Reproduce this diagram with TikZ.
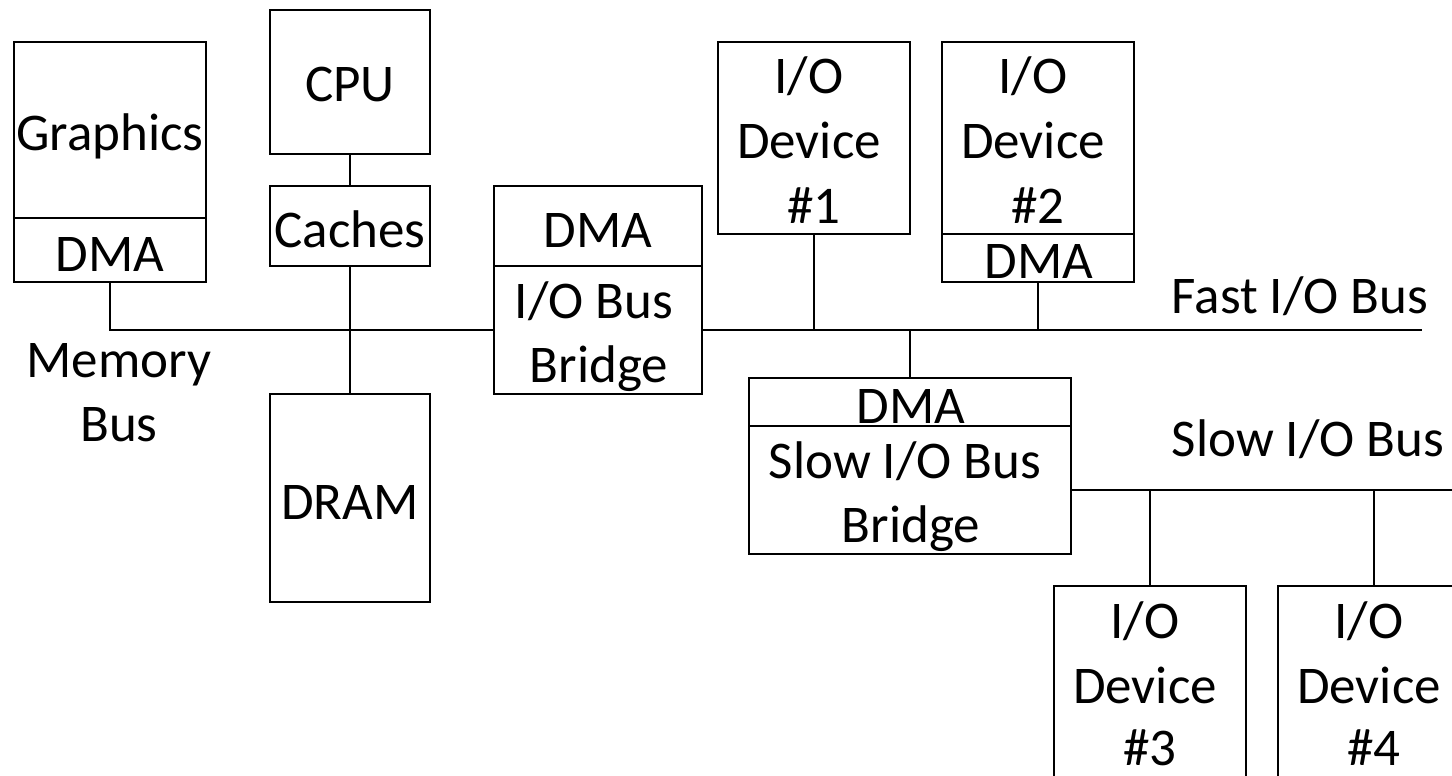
\documentclass[tikz,border=0pt]{standalone}
\usepackage{fontspec}
\setmainfont{Carlito}
\begin{document}
\begin{tikzpicture}[x=1pt,y=-1pt,
  box/.style={draw, line width=2pt, inner sep=0pt, outer sep=0pt},
  txt/.style={anchor=base, inner sep=0pt, outer sep=0pt, font=\fontsize{53}{64}\selectfont},
  wire/.style={line width=2pt}]
\useasboundingbox (0,0) rectangle (1452,776);
\clip (0,0) rectangle (1452,776);
% boxes
\node[box, minimum width=192pt, minimum height=176pt] (gfx) at (110,130) {};
\node[box, minimum width=192pt, minimum height=64pt] (gfxdma) at (110,250) {};
\node[box, minimum width=160pt, minimum height=144pt] (cpu) at (350,82) {};
\node[box, minimum width=160pt, minimum height=80pt] (cache) at (350,226) {};
\node[box, minimum width=160pt, minimum height=208pt] (dram) at (350,498) {};
\node[box, minimum width=208pt, minimum height=80pt] (iobdma) at (598,226) {};
\node[box, minimum width=208pt, minimum height=128pt] (iob) at (598,330) {};
\node[box, minimum width=192pt, minimum height=192pt] (dev1) at (814,138) {};
\node[box, minimum width=192pt, minimum height=192pt] (dev2) at (1038,138) {};
\node[box, minimum width=192pt, minimum height=48pt] (dev2dma) at (1038,258) {};
\node[box, minimum width=322pt, minimum height=48pt] (sbdma) at (910,402) {};
\node[box, minimum width=322pt, minimum height=128pt] (sb) at (910,490) {};
\node[box, minimum width=192pt, minimum height=224pt] (dev3) at (1150,698) {};
\node[box, minimum width=192pt, minimum height=224pt] (dev4) at (1374,698) {};
% connectors
\coordinate (fastend) at (1422,330);
\coordinate (slowend) at (1470,490);
\draw[wire] (gfxdma.south) |- (iob.west);
\draw[wire] (cpu.south) -- (cache.north);
\draw[wire] (cache.south) -- (dram.north);
\draw[wire] (iob.east) -- (fastend);
\draw[wire] (dev1.south) -- (dev1.south |- fastend);
\draw[wire] (dev2dma.south) -- (dev2dma.south |- fastend);
\draw[wire] (sbdma.north) -- (sbdma.north |- fastend);
\draw[wire] (sb.east) -- (slowend);
\draw[wire] (dev3.north) -- (dev3.north |- slowend);
\draw[wire] (dev4.north) -- (dev4.north |- slowend);
% texts
\node[txt] (tgfx) at (110,150) {Graphics};
\node[txt] (tgfxdma) at (110,271) {DMA};
\node[txt] (tcpu) at (350,102) {CPU};
\node[txt] (tcache) at (350,247) {Caches};
\node[txt] (tdram) at (350,519) {DRAM};
\node[txt] (tiobdma) at (598,247) {DMA};
\node[txt] (tiob1) at (594,318) {I/O Bus};
\node[txt] (tiob2) at (599,382) {Bridge};
\node[txt] (tmem1) at (119,377) {Memory};
\node[txt] (tmem2) at (119,441) {Bus};
\node[txt] (td1a) at (809,94) {I/O};
\node[txt] (td1b) at (809,158) {Device};
\node[txt] (td1c) at (814,223) {\#1};
\node[txt] (td2a) at (1033,94) {I/O};
\node[txt] (td2b) at (1033,158) {Device};
\node[txt] (td2c) at (1038,223) {\#2};
\node[txt] (td2dma) at (1039,278) {DMA};
\node[txt] (tfast) at (1300,313) {Fast I/O Bus};
\node[txt] (tsbdma) at (911,423) {DMA};
\node[txt] (tsb1) at (905,478) {Slow I/O Bus};
\node[txt] (tsb2) at (911,542) {Bridge};
\node[txt] (tslow) at (1308,456) {Slow I/O Bus};
\node[txt] (td3a) at (1145,638) {I/O};
\node[txt] (td3b) at (1145,703) {Device};
\node[txt] (td3c) at (1150,765) {\#3};
\node[txt] (td4a) at (1369,638) {I/O};
\node[txt] (td4b) at (1369,703) {Device};
\node[txt] (td4c) at (1374,765) {\#4};
\end{tikzpicture}
\end{document}
